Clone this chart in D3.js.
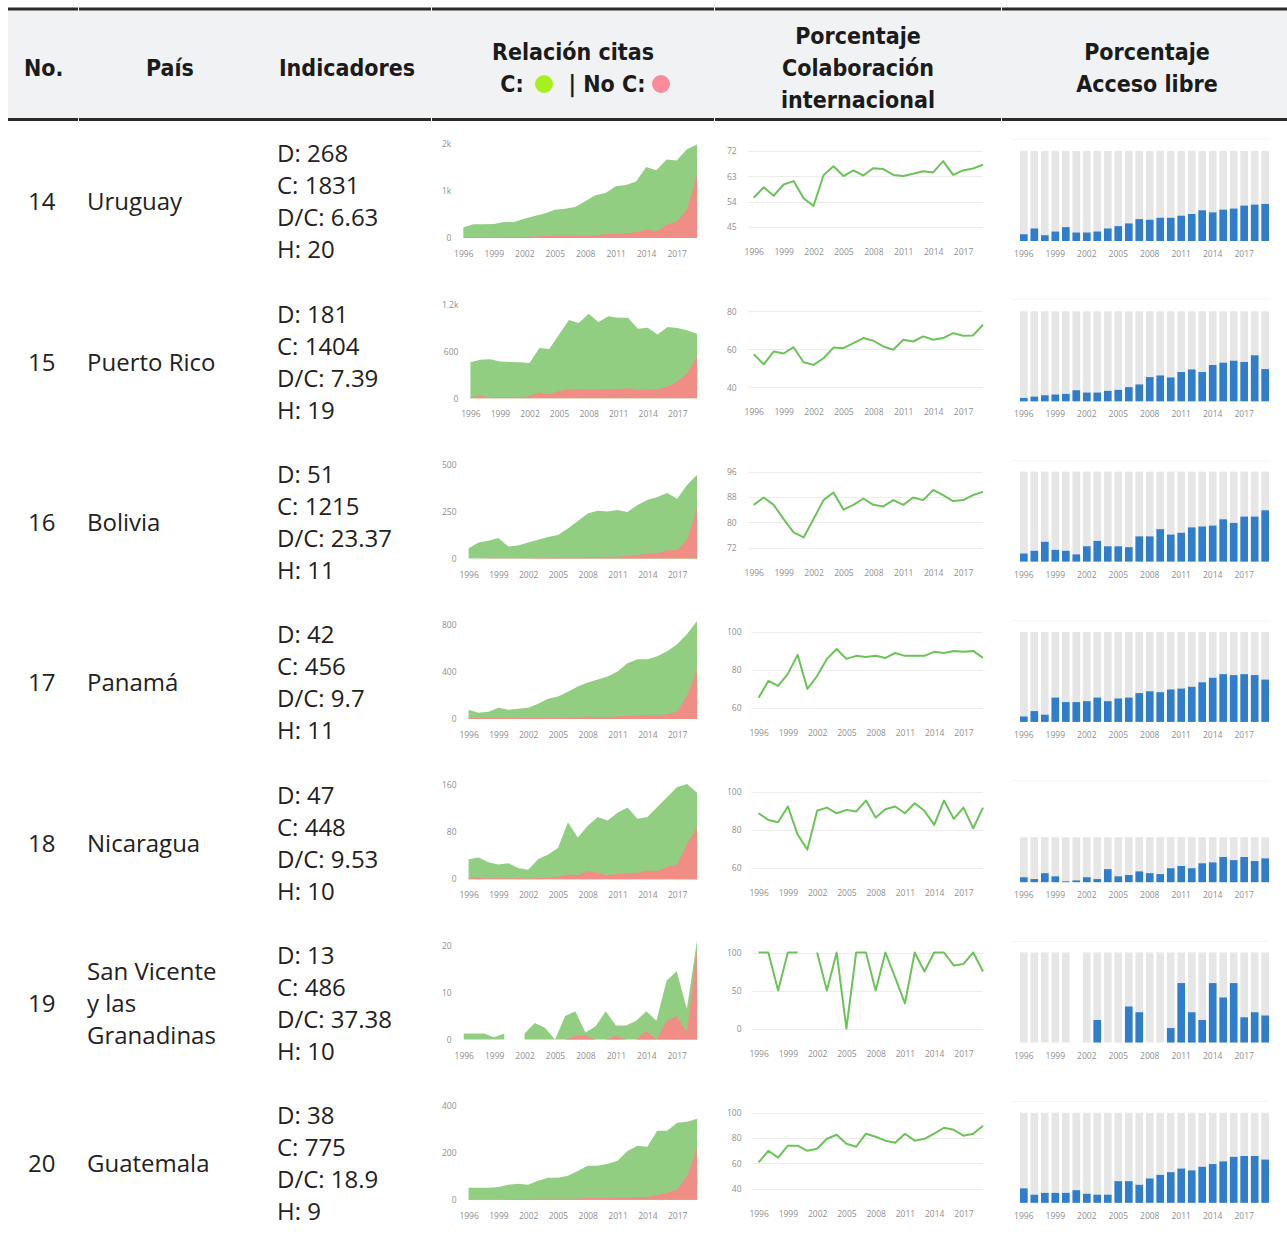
<!DOCTYPE html>
<meta charset="utf-8">
<style>
body { margin: 0; background: #fff; }
.head { font-family: "DejaVu Sans Condensed", "DejaVu Sans", sans-serif; font-stretch: condensed; font-weight: bold; font-size: 23px; fill: #1b1b1b; }
.cell { font-family: "Open Sans", "Noto Sans", sans-serif; font-size: 24px; fill: #222; }
.tick text, .tickfont { font-family: "Open Sans", "Noto Sans", sans-serif; font-size: 8.5px; fill: #8f8f8f; }
.domain { display: none; }
.grid { stroke: #ececec; stroke-width: 1px; }
.colab { fill: none; stroke: #6cc35a; stroke-width: 2px; stroke-linejoin: round; }
</style>
<body>
<svg id="chart" width="1287" height="1234"></svg>
<script src="https://d3js.org/d3.v7.min.js"></script>
<script>

var years = d3.range(1996, 2020);
var yearTicks = d3.range(1996, 2018, 3);

var numeros = [14, 15, 16, 17, 18, 19, 20];
var paises = [["Uruguay"], ["Puerto Rico"], ["Bolivia"], ["Panamá"], ["Nicaragua"], ["San Vicente", "y las", "Granadinas"], ["Guatemala"]];
var indD = [268, 181, 51, 42, 47, 13, 38];
var indC = [1831, 1404, 1215, 456, 448, 486, 775];
var indDC = ["6.63", "7.39", "23.37", "9.7", "9.53", "37.38", "18.9"];
var indH = [20, 19, 11, 11, 10, 10, 9];

// citas totales (verde, apiladas sobre rojo) y citas sin autocitas (rojo)
var citasTotal = [
  [230,290,290,300,340,340,410,470,520,600,620,660,780,910,960,1100,1130,1200,1510,1440,1670,1650,1890,1990],
  [459,493,497,471,463,459,450,643,630,814,999,960,1080,973,1046,1029,1029,887,900,814,909,896,870,823],
  [55,85,95,110,65,70,85,100,115,125,160,200,240,255,250,258,248,285,312,328,349,318,392,446],
  [77,52,60,95,77,86,95,130,172,190,232,275,310,335,360,404,473,507,507,533,576,636,722,834],
  [34,37,29,25,27,19,16,34,42,53,97,71,91,106,100,113,122,103,106,123,140,157,162,147],
  [1.3,1.3,1.3,0.5,1.3,null,1.3,3.5,2.5,0,5,6,1.5,2.8,6,3,3,4,6,4,12.5,14.5,6.5,21],
  [51,51,51,55,64,68,64,81,94,94,102,123,145,145,153,166,208,230,226,294,294,328,332,345]
];
var citasNoC = [
  [10,10,10,10,20,20,20,30,40,50,50,50,40,60,80,90,100,120,180,150,280,350,600,1350],
  [10,34,10,17,17,10,30,77,51,94,116,120,111,116,120,120,129,107,116,116,150,214,321,536],
  [0,0,2,2,2,2,2,3,3,5,5,5,8,8,10,10,15,20,25,30,45,45,100,270],
  [8,8,8,8,8,8,8,8,8,8,10,12,20,15,15,20,25,30,35,30,40,60,200,420],
  [1,3,1,2,1,2,1,2,2,4,8,7,14,11,7,9,10,11,15,14,21,25,60,88],
  [0,0,0,0,0,null,0,0,0,0,0,0.8,0.8,0,0,0.8,0,0,1.8,0,4,5,1.5,19],
  [2,2,2,2,3,3,3,4,4,5,5,6,8,8,8,10,10,12,12,20,30,45,100,220]
];
var citasTicks = [[0,1000,2000],[0,600,1200],[0,250,500],[0,400,800],[0,80,160],[0,10,20],[0,200,400]];

var colab = [
  [55.4,59.1,56.1,60.1,61.3,55.2,52.5,63.4,66.6,63.1,65.1,63.3,65.9,65.6,63.5,63.1,63.9,64.8,64.4,68.4,63.5,65.1,65.8,67.1],
  [57.4,52.1,58.8,57.8,61.1,53.2,51.8,55.3,60.9,60.6,63.2,65.9,64.5,61.5,59.8,65,64.1,66.8,65,65.9,68.5,67.1,67.3,72.9],
  [85.5,87.8,85.5,81,76.8,75.2,81,87,89.4,84,85.5,87.5,85.5,85,87,85.5,87.8,87,90.2,88.6,86.7,87,88.6,89.6],
  [65.3,74.2,71.6,77.9,87.9,70,76.8,85.8,91,85.8,87.4,86.8,87.4,86.3,88.9,87.4,87.4,87.4,89.5,88.9,90,89.5,90,86.3],
  [88.9,85.4,84.2,92.5,77.7,69.8,90.2,91.9,88.9,90.7,89.8,95.6,86.7,91,92.5,88.9,94.2,90.2,82.8,95.6,86,91.9,81,91.9],
  [100,100,50,100,100,null,100,50,100,0,100,100,50,100,67,33,100,75,100,100,83,85,100,75],
  [60.8,70,64.6,74,74,70,71.6,79.5,82.7,75.6,73.2,83.5,81.1,78,76.4,83.5,78,79.5,83.5,88.2,86.6,81.9,83.5,89.8]
];
var colabTicks = [[45,54,63,72],[40,60,80],[72,80,88,96],[60,80,100],[60,80,100],[0,50,100],[40,60,80,100]];

var acceso = [
  [7.5,13.9,6.4,10.5,15.4,9.4,9.4,10.5,13.9,16.5,19.5,24.3,23.6,25.8,25.8,28.1,30,34.1,31.8,34.8,36,39.3,40.4,41.2],
  [3.7,5.2,6.7,7.5,8.2,12.3,9.7,9.7,11.6,12.7,15.7,18.7,26.9,28.7,26.5,32.5,35.4,32.5,40.3,42.9,45.1,43.7,51.1,35.8],
  [9,12,22,13,12,8,17,23,17,17,16,28,28,36,30,32,38,39,40,47,43,50,50,57],
  [6,12,8,27,22,22,23,27,23,26,27,32,34,33,36,37,39,44,49,53,52,53,52,47],
  [11,7,20,13,2,4,11,7,29,13,16,24,20,18,31,36,31,42,44,56,49,56,47,53],
  [0,0,0,0,0,null,0,25,0,0,40,33.6,0,0,16,66,33.6,25,66,50,66,28,33.6,30],
  [16,9,11,11,11,14,10,9,9,24,24,20,27,31,34,38,36,40,43,46,51,52,52,48]
];
var accesoMax = [100, 100, 100, 100, 200, 100, 100];

var svg = d3.select("#chart");

//////////////////////// header ////////////////////////
svg.append("rect").attr("x", 8).attr("y", 10).attr("width", 1279).attr("height", 108).attr("fill", "#f1f2f4");
var cuts = [8, 78, 431, 714, 1001, 1287];
for (var k = 0; k < cuts.length - 1; k++) {
  [9, 119.5].forEach(function(y) {
    svg.append("line").attr("x1", cuts[k] + (k ? 1 : 0)).attr("x2", cuts[k + 1])
      .attr("y1", y).attr("y2", y).attr("stroke", "#2b2b2b").attr("stroke-width", 3);
  });
}

function head(x, y, str, anchor) {
  return svg.append("text").attr("class", "head").attr("x", x).attr("y", y)
    .attr("dy", "0.36em").attr("text-anchor", anchor || "middle").text(str);
}
head(24, 68, "No.", "start");
head(170, 68, "País");
head(347, 68, "Indicadores");
head(573, 52, "Relación citas");
head(512, 84, "C:");
head(607, 84, "| No C:");
svg.append("circle").attr("cx", 544).attr("cy", 84).attr("r", 9).attr("fill", "#a8ef1e");
svg.append("circle").attr("cx", 661).attr("cy", 84).attr("r", 9).attr("fill", "#f98b9b");
head(858, 36, "Porcentaje");
head(858, 68, "Colaboración");
head(858, 100, "internacional");
head(1147, 52, "Porcentaje");
head(1147, 84, "Acceso libre");

//////////////////////// rows ////////////////////////
function textWidth(str) {
  var t = svg.append("text").attr("class", "tickfont").text(str);
  var w = t.node().getComputedTextLength();
  t.remove();
  return w;
}

for (var i = 0; i < numeros.length; i++) renderRow(i);

function renderRow(i) {
  var cy = 202 + i * 160.3;
  var row = svg.append("g");

  row.append("text").attr("class", "cell").attr("x", 28).attr("y", cy).attr("dy", "0.35em").text(numeros[i]);

  var lines = paises[i];
  lines.forEach(function(l, j) {
    row.append("text").attr("class", "cell").attr("x", 87)
      .attr("y", cy + (j - (lines.length - 1) / 2) * 32).attr("dy", "0.35em").text(l);
  });

  ["D: " + indD[i], "C: " + indC[i], "D/C: " + indDC[i], "H: " + indH[i]].forEach(function(l, j) {
    row.append("text").attr("class", "cell").attr("x", 277).attr("y", cy - 48 + j * 32).attr("dy", "0.35em").text(l);
  });

  // --- relación citas (área apilada) ---
  var fmtS = d3.format("~s");
  var wA = d3.max(citasTicks[i], function(t) { return textWidth(fmtS(t)); });
  var left = 442 + wA + 12;
  var xA = d3.scaleLinear().domain([1996, 2019]).range([left, 697]);
  var yA = d3.scaleLinear().domain([0, citasTicks[i][2]]).range([cy + 36, cy - 58]);
  var dataA = years.map(function(y, j) { return {year: y, tot: citasTotal[i][j], noc: citasNoC[i][j]}; });

  row.append("path").datum(dataA).attr("fill", "#92ce82")
    .attr("d", d3.area().defined(function(d) { return d.tot != null; })
      .x(function(d) { return xA(d.year); }).y0(yA(0)).y1(function(d) { return yA(d.tot); }));
  row.append("path").datum(dataA).attr("fill", "#f08d84")
    .attr("d", d3.area().defined(function(d) { return d.noc != null; })
      .x(function(d) { return xA(d.year); }).y0(yA(0)).y1(function(d) { return yA(d.noc); }));

  row.append("g").attr("transform", "translate(" + left + ",0)")
    .call(d3.axisLeft(yA).tickValues(citasTicks[i]).tickFormat(fmtS).tickSize(0).tickPadding(12));
  row.append("g").attr("transform", "translate(0," + (cy + 49) + ")")
    .call(d3.axisBottom(xA).tickValues(yearTicks).tickFormat(d3.format("d")).tickSize(0).tickPadding(0));

  // --- colaboración internacional (línea) ---
  var wL = d3.max(colabTicks[i], function(t) { return textWidth(String(t)); });
  var gridLeft = 727 + wL + 11;
  var xL = d3.scaleLinear().domain([1996, 2019]).range([gridLeft + 6, 983]);
  var tk = colabTicks[i];
  var yL = d3.scaleLinear().domain([tk[0], tk[tk.length - 1]]).range([cy + 25, cy - 51]);

  row.selectAll(null).data(tk).enter().append("line").attr("class", "grid")
    .attr("x1", gridLeft).attr("x2", 983)
    .attr("y1", function(d) { return Math.round(yL(d)) + 0.5; })
    .attr("y2", function(d) { return Math.round(yL(d)) + 0.5; });

  row.append("path").datum(colab[i]).attr("class", "colab")
    .attr("d", d3.line().defined(function(d) { return d != null; })
      .x(function(d, j) { return xL(years[j]); }).y(function(d) { return yL(d); }));

  row.append("g").attr("transform", "translate(" + gridLeft + ",0)")
    .call(d3.axisLeft(yL).tickValues(tk).tickSize(0).tickPadding(11));
  row.append("g").attr("transform", "translate(0," + (cy + 47) + ")")
    .call(d3.axisBottom(xL).tickValues(yearTicks).tickFormat(d3.format("d")).tickSize(0).tickPadding(0));

  // --- acceso libre (barras) ---
  var xB = d3.scaleBand().domain(years).range([1020, 1269]).paddingInner(0.27).paddingOuter(0);
  var yB = d3.scaleLinear().domain([0, accesoMax[i]]).range([cy + 39, cy - 51]);
  var dataB = years.map(function(y, j) { return {year: y, v: acceso[i][j]}; })
    .filter(function(d) { return d.v != null; });

  row.append("line").attr("x1", 1012).attr("x2", 1270)
    .attr("y1", Math.round(cy - 63) + 0.5).attr("y2", Math.round(cy - 63) + 0.5).attr("stroke", "#f3f3f3");

  row.selectAll(null).data(dataB).enter().append("rect")
    .attr("x", function(d) { return xB(d.year); }).attr("width", xB.bandwidth())
    .attr("y", yB(100)).attr("height", yB(0) - yB(100)).attr("fill", "#e6e6e6");
  row.selectAll(null).data(dataB).enter().append("rect")
    .attr("x", function(d) { return xB(d.year); }).attr("width", xB.bandwidth())
    .attr("y", function(d) { return yB(d.v); }).attr("height", function(d) { return yB(0) - yB(d.v); })
    .attr("fill", "#2f7dcb");

  row.append("g").attr("transform", "translate(0," + (cy + 49) + ")")
    .call(d3.axisBottom(xB).tickValues(yearTicks).tickSize(0).tickPadding(0));
}

</script>
</body>
</html>
